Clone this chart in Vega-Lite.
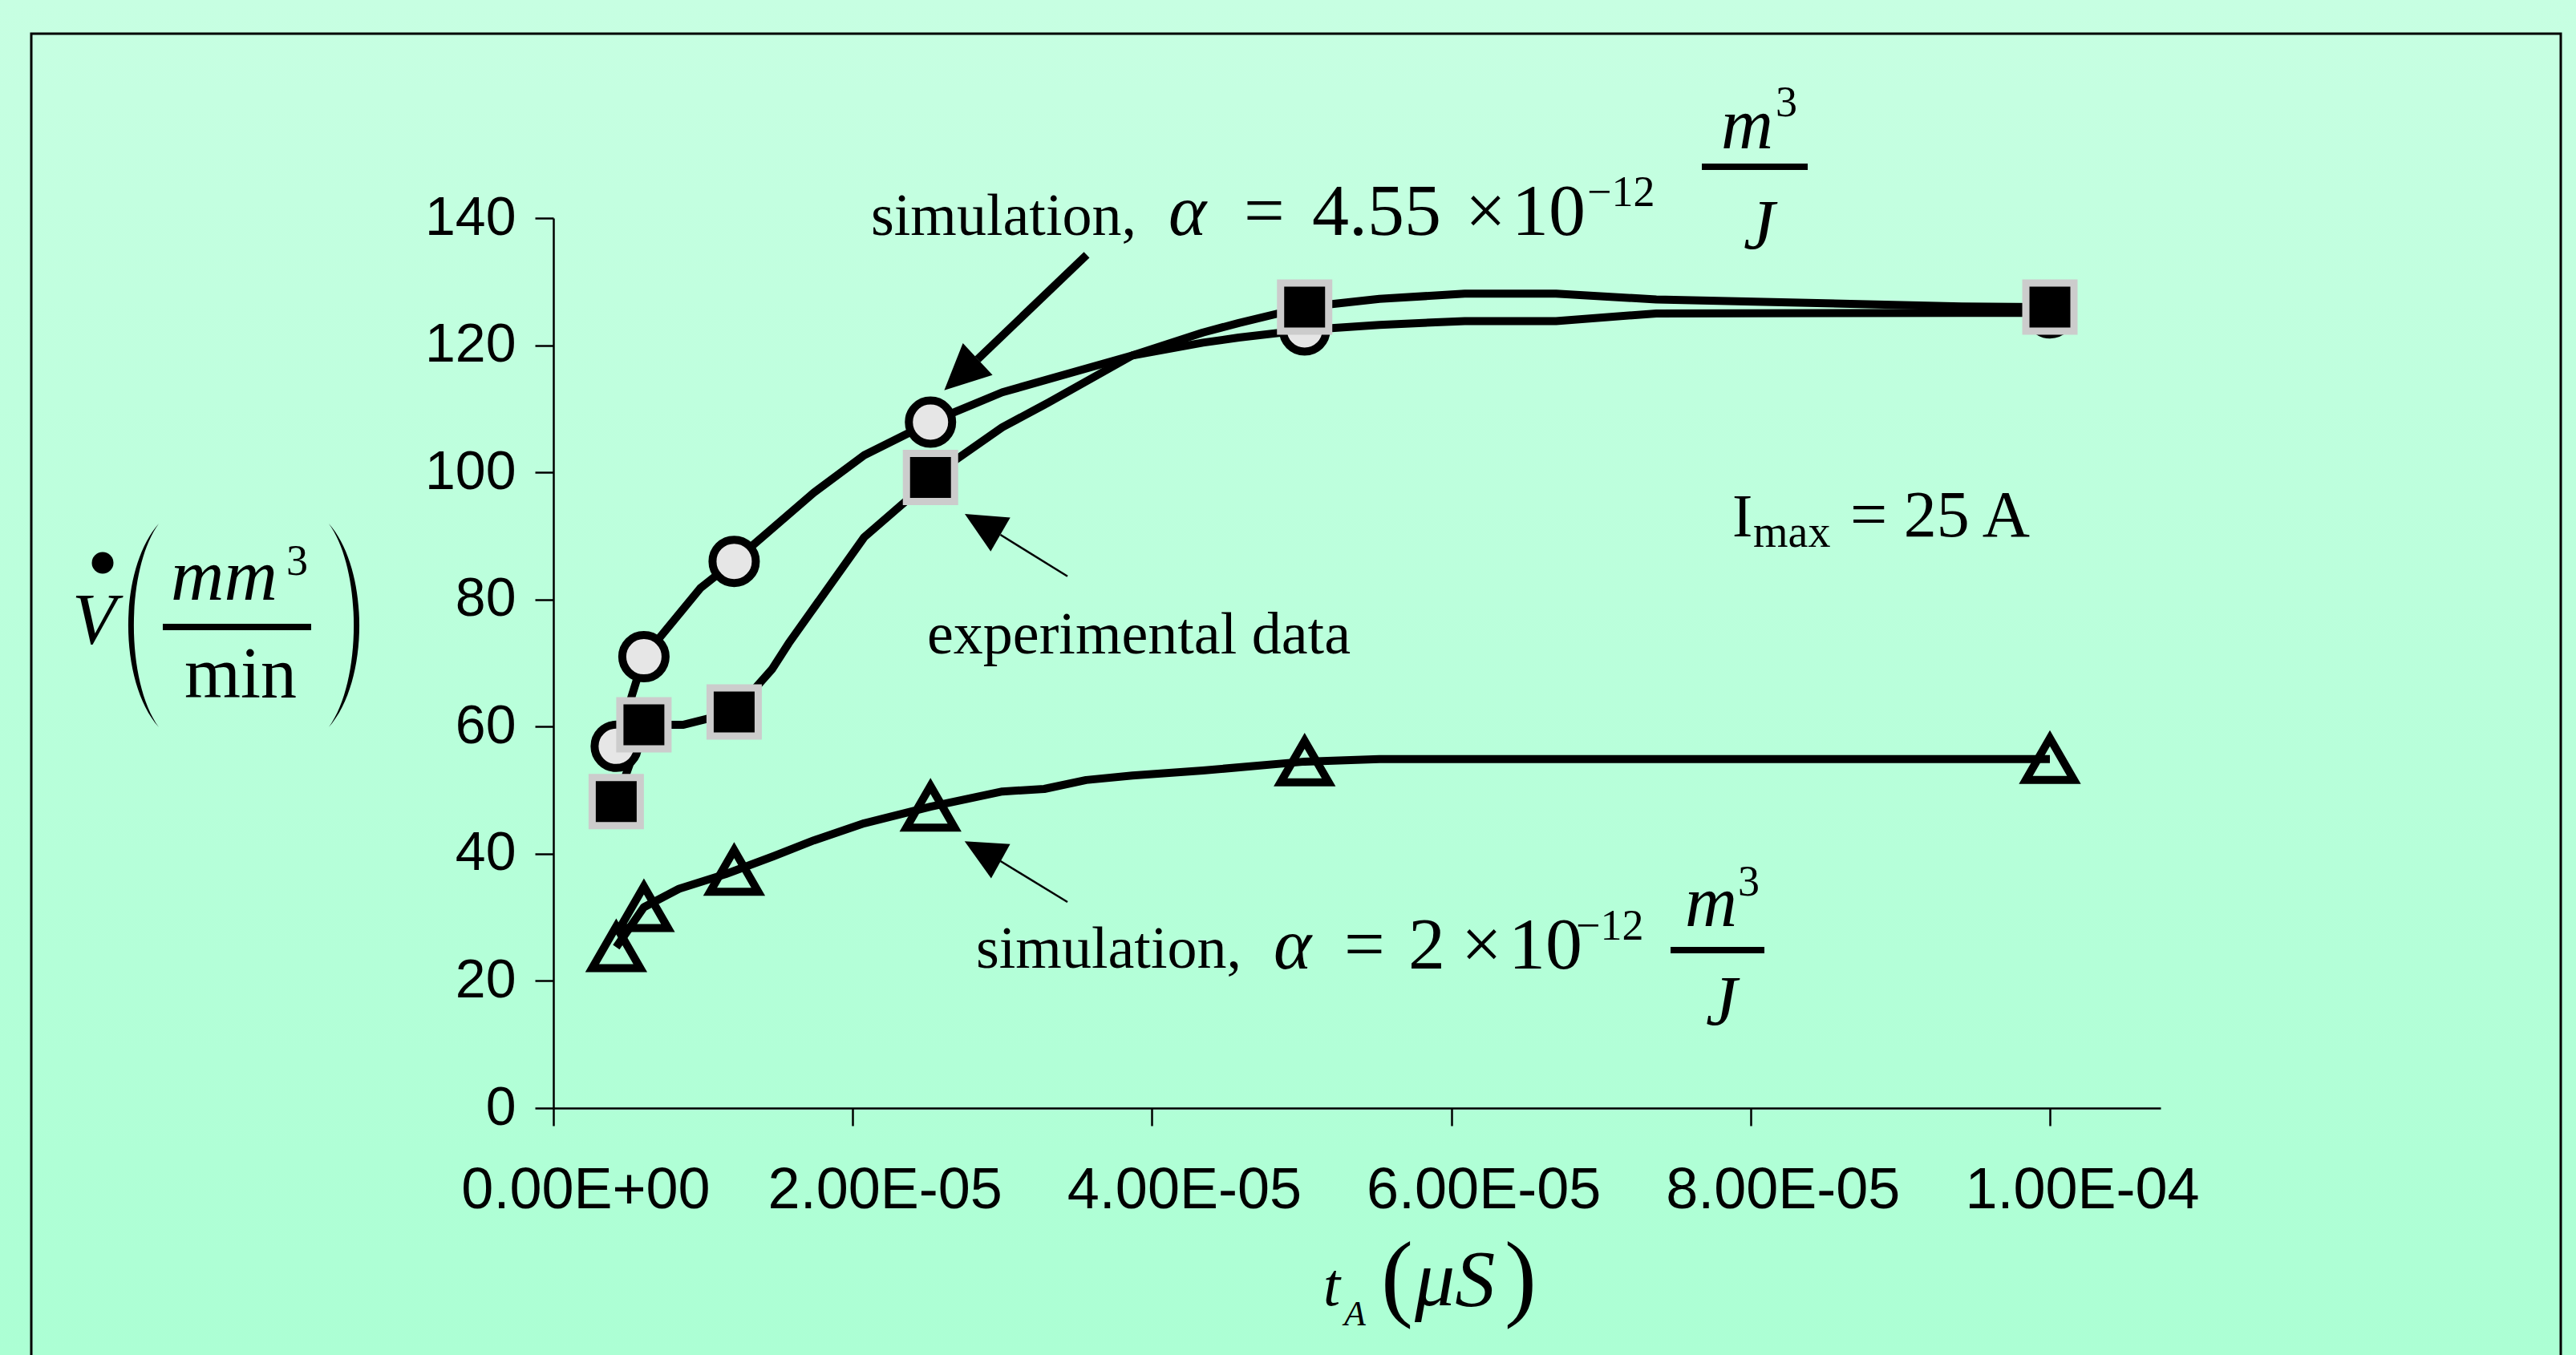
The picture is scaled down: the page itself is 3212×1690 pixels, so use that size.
{
  "$schema": "https://vega.github.io/schema/vega-lite/v6.json",
  "autosize": {"type": "none"},
  "padding": {"left": 690, "top": 272, "right": 518, "bottom": 308},
  "width": 2004,
  "height": 1110,
  "background": "#BAFFDB",
  "config": {"view": {"stroke": null}},
  "data": {"values": [{}]},
  "datasets": {
    "curves": [
      {"series": "sim455", "t": 4.2e-6, "v": 56.9},
      {"series": "sim455", "t": 6.05e-6, "v": 71.0},
      {"series": "sim455", "t": 9.83e-6, "v": 81.8},
      {"series": "sim455", "t": 1.208e-5, "v": 86.0},
      {"series": "sim455", "t": 1.74e-5, "v": 96.8},
      {"series": "sim455", "t": 2.077e-5, "v": 102.7},
      {"series": "sim455", "t": 2.52e-5, "v": 107.9},
      {"series": "sim455", "t": 3.0e-5, "v": 112.6},
      {"series": "sim455", "t": 3.87e-5, "v": 118.4},
      {"series": "sim455", "t": 4.34e-5, "v": 120.4},
      {"series": "sim455", "t": 4.58e-5, "v": 121.2},
      {"series": "sim455", "t": 5.02e-5, "v": 122.4},
      {"series": "sim455", "t": 5.52e-5, "v": 123.2},
      {"series": "sim455", "t": 6.09e-5, "v": 123.8},
      {"series": "sim455", "t": 6.7e-5, "v": 123.8},
      {"series": "sim455", "t": 7.37e-5, "v": 125.0},
      {"series": "sim455", "t": 9.41e-5, "v": 125.1},
      {"series": "sim455", "t": 1.0e-4, "v": 125.1},
      {"series": "exp", "t": 4.2e-6, "v": 48.2},
      {"series": "exp", "t": 6.05e-6, "v": 60.3},
      {"series": "exp", "t": 8.7e-6, "v": 60.3},
      {"series": "exp", "t": 1.208e-5, "v": 62.3},
      {"series": "exp", "t": 1.46e-5, "v": 69.0},
      {"series": "exp", "t": 1.572e-5, "v": 73.1},
      {"series": "exp", "t": 2.077e-5, "v": 89.8},
      {"series": "exp", "t": 2.357e-5, "v": 95.5},
      {"series": "exp", "t": 2.52e-5, "v": 99.2},
      {"series": "exp", "t": 3.0e-5, "v": 107.1},
      {"series": "exp", "t": 3.31e-5, "v": 111.0},
      {"series": "exp", "t": 3.87e-5, "v": 118.4},
      {"series": "exp", "t": 4.34e-5, "v": 122.0},
      {"series": "exp", "t": 4.58e-5, "v": 123.5},
      {"series": "exp", "t": 5.02e-5, "v": 126.0},
      {"series": "exp", "t": 5.52e-5, "v": 127.3},
      {"series": "exp", "t": 6.09e-5, "v": 128.1},
      {"series": "exp", "t": 6.7e-5, "v": 128.1},
      {"series": "exp", "t": 7.37e-5, "v": 127.2},
      {"series": "exp", "t": 9.41e-5, "v": 126.1},
      {"series": "exp", "t": 1.0e-4, "v": 126.0},
      {"series": "sim2", "t": 4.2e-6, "v": 25.3},
      {"series": "sim2", "t": 6.05e-6, "v": 31.6},
      {"series": "sim2", "t": 8.4e-6, "v": 34.5},
      {"series": "sim2", "t": 1.15e-5, "v": 36.8},
      {"series": "sim2", "t": 1.208e-5, "v": 37.3},
      {"series": "sim2", "t": 1.47e-5, "v": 39.6},
      {"series": "sim2", "t": 1.74e-5, "v": 42.1},
      {"series": "sim2", "t": 2.077e-5, "v": 44.8},
      {"series": "sim2", "t": 2.52e-5, "v": 47.4},
      {"series": "sim2", "t": 3.0e-5, "v": 49.8},
      {"series": "sim2", "t": 3.28e-5, "v": 50.2},
      {"series": "sim2", "t": 3.56e-5, "v": 51.6},
      {"series": "sim2", "t": 3.87e-5, "v": 52.3},
      {"series": "sim2", "t": 4.34e-5, "v": 53.1},
      {"series": "sim2", "t": 5.02e-5, "v": 54.5},
      {"series": "sim2", "t": 5.52e-5, "v": 54.9},
      {"series": "sim2", "t": 1.0e-4, "v": 54.9}
    ],
    "markers": [
      {"series": "sim455", "t": 4.2e-6, "v": 56.9},
      {"series": "sim455", "t": 6.05e-6, "v": 71.0},
      {"series": "sim455", "t": 1.208e-5, "v": 86.0},
      {"series": "sim455", "t": 2.52e-5, "v": 107.9},
      {"series": "sim455", "t": 5.02e-5, "v": 122.4},
      {"series": "sim455", "t": 1.0e-4, "v": 125.1},
      {"series": "sim2", "t": 4.2e-6, "v": 25.3},
      {"series": "sim2", "t": 6.05e-6, "v": 31.6},
      {"series": "sim2", "t": 1.208e-5, "v": 37.3},
      {"series": "sim2", "t": 2.52e-5, "v": 47.4},
      {"series": "sim2", "t": 5.02e-5, "v": 54.5},
      {"series": "sim2", "t": 1.0e-4, "v": 54.9},
      {"series": "exp", "t": 4.2e-6, "v": 48.2},
      {"series": "exp", "t": 6.05e-6, "v": 60.3},
      {"series": "exp", "t": 1.208e-5, "v": 62.3},
      {"series": "exp", "t": 2.52e-5, "v": 99.2},
      {"series": "exp", "t": 5.02e-5, "v": 126.0},
      {"series": "exp", "t": 1.0e-4, "v": 126.0}
    ]
  },
  "layer": [
    {
      "mark": {"type": "rect", "fill": {"gradient": "linear", "x1": 0, "y1": 0, "x2": 0, "y2": 1, "stops": [{"offset": 0, "color": "#C7FFE2"}, {"offset": 1, "color": "#ACFFD4"}]}},
      "encoding": {
        "x": {"datum": -3.6977e-5, "type": "quantitative"},
        "x2": {"datum": 1.35155e-4},
        "y": {"datum": 174.3, "type": "quantitative"},
        "y2": {"datum": -38.85}
      }
    },
    {
      "mark": {"type": "rect", "filled": false, "fill": null, "stroke": "black", "strokeWidth": 3},
      "encoding": {
        "x": {"datum": -3.4887e-5, "type": "quantitative"},
        "x2": {"datum": 1.34137e-4},
        "y": {"datum": 169.01, "type": "quantitative"},
        "y2": {"datum": -60}
      }
    },
    {
      "data": {"name": "curves"},
      "mark": {"type": "line", "color": "black", "strokeWidth": 10, "strokeJoin": "round"},
      "encoding": {
        "x": {
          "field": "t", "type": "quantitative",
          "scale": {"domain": [0, 1.07395e-4], "nice": false, "zero": false},
          "axis": {
            "title": null, "grid": false, "zindex": 1,
            "values": [0, 2e-5, 4e-5, 6e-5, 8e-5, 1e-4],
            "labelExpr": "replace(replace(format(datum.value, '.2e'), 'e-', 'E-0'), 'e+', 'E+0')",
            "tickSize": 22, "tickWidth": 2.5, "tickColor": "black",
            "domainColor": "black", "domainWidth": 2.5,
            "labelFont": "Liberation Sans", "labelFontSize": 72, "labelColor": "black",
            "labelPadding": 45, "labelOffset": 40, "labelLimit": 0,
            "labelFlush": false, "labelOverlap": false, "labelBound": false
          }
        },
        "y": {
          "field": "v", "type": "quantitative",
          "scale": {"domain": [0, 140], "nice": false, "zero": false},
          "axis": {
            "title": null, "grid": false, "zindex": 1,
            "values": [0, 20, 40, 60, 80, 100, 120, 140],
            "tickSize": 23, "tickWidth": 2.5, "tickColor": "black",
            "domainColor": "black", "domainWidth": 2.5,
            "labelFont": "Liberation Sans", "labelFontSize": 68, "labelColor": "black",
            "labelPadding": 24, "labelLimit": 0,
            "labelFlush": false, "labelOverlap": false, "labelBound": false
          }
        },
        "detail": {"field": "series"}
      }
    },
    {
      "data": {"name": "markers"},
      "transform": [{"filter": "datum.series == 'sim455'"}],
      "mark": {"type": "point", "shape": "circle", "filled": true, "fill": "#E6E6E6", "stroke": "black", "strokeWidth": 10, "size": 2916, "opacity": 1},
      "encoding": {
        "x": {"field": "t", "type": "quantitative"},
        "y": {"field": "v", "type": "quantitative"}
      }
    },
    {
      "data": {"name": "markers"},
      "transform": [{"filter": "datum.series == 'sim2'"}],
      "mark": {"type": "point", "shape": "triangle-up", "filled": false, "fill": null, "stroke": "black", "strokeWidth": 10, "strokeJoin": "miter", "size": 3600, "opacity": 1},
      "encoding": {
        "x": {"field": "t", "type": "quantitative"},
        "y": {"field": "v", "type": "quantitative"}
      }
    },
    {
      "data": {"name": "markers"},
      "transform": [{"filter": "datum.series == 'exp'"}],
      "mark": {"type": "point", "shape": "square", "filled": true, "fill": "black", "stroke": "#CCCCCC", "strokeWidth": 9, "size": 3600, "opacity": 1},
      "encoding": {
        "x": {"field": "t", "type": "quantitative"},
        "y": {"field": "v", "type": "quantitative"}
      }
    },
    {
      "mark": {"type": "rule", "color": "black", "strokeWidth": 10},
      "encoding": {
        "x": {"datum": 3.5638e-5, "type": "quantitative"}, "y": {"datum": 134.2, "type": "quantitative"},
        "x2": {"datum": 2.8349e-5}, "y2": {"datum": 117.8}
      }
    },
    {
      "mark": {"type": "point", "shape": "M0,-1L-0.95,1L0.95,1Z", "filled": true, "color": "black", "strokeWidth": 0, "size": 3249, "angle": 227, "opacity": 1},
      "encoding": {"x": {"datum": 2.7237e-5, "type": "quantitative"}, "y": {"datum": 115.36, "type": "quantitative"}}
    },
    {
      "mark": {"type": "rule", "color": "black", "strokeWidth": 2.5},
      "encoding": {
        "x": {"datum": 3.4352e-5, "type": "quantitative"}, "y": {"datum": 83.65, "type": "quantitative"},
        "x2": {"datum": 2.9877e-5}, "y2": {"datum": 90.18}
      }
    },
    {
      "mark": {"type": "point", "shape": "M0,-1L-0.95,1L0.95,1Z", "filled": true, "color": "black", "strokeWidth": 0, "size": 2642, "angle": 300, "opacity": 1},
      "encoding": {"x": {"datum": 2.8684e-5, "type": "quantitative"}, "y": {"datum": 91.84, "type": "quantitative"}}
    },
    {
      "mark": {"type": "rule", "color": "black", "strokeWidth": 2.5},
      "encoding": {
        "x": {"datum": 3.4352e-5, "type": "quantitative"}, "y": {"datum": 32.41, "type": "quantitative"},
        "x2": {"datum": 2.9877e-5}, "y2": {"datum": 38.85}
      }
    },
    {
      "mark": {"type": "point", "shape": "M0,-1L-0.95,1L0.95,1Z", "filled": true, "color": "black", "strokeWidth": 0, "size": 2642, "angle": 299, "opacity": 1},
      "encoding": {"x": {"datum": 2.8684e-5, "type": "quantitative"}, "y": {"datum": 40.4, "type": "quantitative"}}
    },
    {
      "mark": {"type": "text", "text": "simulation,", "font": "Liberation Serif", "fontSize": 74, "align": "left", "baseline": "alphabetic", "color": "black"},
      "encoding": {"x": {"datum": 2.1222e-5, "type": "quantitative"}, "y": {"datum": 137.35, "type": "quantitative"}}
    },
    {
      "mark": {"type": "text", "text": "α", "font": "Liberation Serif", "fontStyle": "italic", "fontSize": 90, "align": "left", "baseline": "alphabetic", "color": "black"},
      "encoding": {"x": {"datum": 4.1104e-5, "type": "quantitative"}, "y": {"datum": 137.35, "type": "quantitative"}}
    },
    {
      "mark": {"type": "text", "text": "=", "font": "Liberation Serif", "fontSize": 90, "align": "left", "baseline": "alphabetic", "color": "black"},
      "encoding": {"x": {"datum": 4.6141e-5, "type": "quantitative"}, "y": {"datum": 137.35, "type": "quantitative"}}
    },
    {
      "mark": {"type": "text", "text": "4.55", "font": "Liberation Serif", "fontSize": 92, "align": "left", "baseline": "alphabetic", "color": "black"},
      "encoding": {"x": {"datum": 5.0697e-5, "type": "quantitative"}, "y": {"datum": 137.35, "type": "quantitative"}}
    },
    {
      "mark": {"type": "text", "text": "×", "font": "Liberation Serif", "fontSize": 90, "align": "left", "baseline": "alphabetic", "color": "black"},
      "encoding": {"x": {"datum": 6.0932e-5, "type": "quantitative"}, "y": {"datum": 137.35, "type": "quantitative"}}
    },
    {
      "mark": {"type": "text", "text": "10", "font": "Liberation Serif", "fontSize": 92, "align": "left", "baseline": "alphabetic", "color": "black"},
      "encoding": {"x": {"datum": 6.404e-5, "type": "quantitative"}, "y": {"datum": 137.35, "type": "quantitative"}}
    },
    {
      "mark": {"type": "text", "text": "−12", "font": "Liberation Serif", "fontSize": 54, "align": "left", "baseline": "alphabetic", "color": "black"},
      "encoding": {"x": {"datum": 6.9078e-5, "type": "quantitative"}, "y": {"datum": 141.89, "type": "quantitative"}}
    },
    {
      "mark": {"type": "text", "text": "m", "font": "Liberation Serif", "fontStyle": "italic", "fontSize": 90, "align": "left", "baseline": "alphabetic", "color": "black"},
      "encoding": {"x": {"datum": 7.8028e-5, "type": "quantitative"}, "y": {"datum": 150.97, "type": "quantitative"}}
    },
    {
      "mark": {"type": "text", "text": "3", "font": "Liberation Serif", "fontSize": 54, "align": "left", "baseline": "alphabetic", "color": "black"},
      "encoding": {"x": {"datum": 8.1672e-5, "type": "quantitative"}, "y": {"datum": 156.02, "type": "quantitative"}}
    },
    {
      "mark": {"type": "rule", "color": "black", "strokeWidth": 8},
      "encoding": {"x": {"datum": 7.6742e-5, "type": "quantitative"}, "x2": {"datum": 8.3816e-5}, "y": {"datum": 148.07, "type": "quantitative"}}
    },
    {
      "mark": {"type": "text", "text": "J", "font": "Liberation Serif", "fontStyle": "italic", "fontSize": 88, "align": "left", "baseline": "alphabetic", "color": "black"},
      "encoding": {"x": {"datum": 7.9528e-5, "type": "quantitative"}, "y": {"datum": 135.21, "type": "quantitative"}}
    },
    {
      "mark": {"type": "text", "text": "experimental data", "font": "Liberation Serif", "fontSize": 74, "align": "left", "baseline": "alphabetic", "color": "black"},
      "encoding": {"x": {"datum": 2.4973e-5, "type": "quantitative"}, "y": {"datum": 71.51, "type": "quantitative"}}
    },
    {
      "mark": {"type": "text", "text": "I", "font": "Liberation Serif", "fontSize": 76, "align": "left", "baseline": "alphabetic", "color": "black"},
      "encoding": {"x": {"datum": 7.8778e-5, "type": "quantitative"}, "y": {"datum": 89.93, "type": "quantitative"}}
    },
    {
      "mark": {"type": "text", "text": "max", "font": "Liberation Serif", "fontSize": 56, "align": "left", "baseline": "alphabetic", "color": "black"},
      "encoding": {"x": {"datum": 8.0171e-5, "type": "quantitative"}, "y": {"datum": 88.29, "type": "quantitative"}}
    },
    {
      "mark": {"type": "text", "text": "= 25 A", "font": "Liberation Serif", "fontSize": 82, "align": "left", "baseline": "alphabetic", "color": "black"},
      "encoding": {"x": {"datum": 8.6656e-5, "type": "quantitative"}, "y": {"datum": 89.93, "type": "quantitative"}}
    },
    {
      "mark": {"type": "text", "text": "simulation,", "font": "Liberation Serif", "fontSize": 74, "align": "left", "baseline": "alphabetic", "color": "black"},
      "encoding": {"x": {"datum": 2.8242e-5, "type": "quantitative"}, "y": {"datum": 22.07, "type": "quantitative"}}
    },
    {
      "mark": {"type": "text", "text": "α", "font": "Liberation Serif", "fontStyle": "italic", "fontSize": 90, "align": "left", "baseline": "alphabetic", "color": "black"},
      "encoding": {"x": {"datum": 4.8124e-5, "type": "quantitative"}, "y": {"datum": 22.0, "type": "quantitative"}}
    },
    {
      "mark": {"type": "text", "text": "=", "font": "Liberation Serif", "fontSize": 90, "align": "left", "baseline": "alphabetic", "color": "black"},
      "encoding": {"x": {"datum": 5.284e-5, "type": "quantitative"}, "y": {"datum": 22.0, "type": "quantitative"}}
    },
    {
      "mark": {"type": "text", "text": "2", "font": "Liberation Serif", "fontSize": 92, "align": "left", "baseline": "alphabetic", "color": "black"},
      "encoding": {"x": {"datum": 5.7128e-5, "type": "quantitative"}, "y": {"datum": 22.0, "type": "quantitative"}}
    },
    {
      "mark": {"type": "text", "text": "×", "font": "Liberation Serif", "fontSize": 90, "align": "left", "baseline": "alphabetic", "color": "black"},
      "encoding": {"x": {"datum": 6.0665e-5, "type": "quantitative"}, "y": {"datum": 22.0, "type": "quantitative"}}
    },
    {
      "mark": {"type": "text", "text": "10", "font": "Liberation Serif", "fontSize": 92, "align": "left", "baseline": "alphabetic", "color": "black"},
      "encoding": {"x": {"datum": 6.3826e-5, "type": "quantitative"}, "y": {"datum": 22.0, "type": "quantitative"}}
    },
    {
      "mark": {"type": "text", "text": "−12", "font": "Liberation Serif", "fontSize": 54, "align": "left", "baseline": "alphabetic", "color": "black"},
      "encoding": {"x": {"datum": 6.8328e-5, "type": "quantitative"}, "y": {"datum": 26.49, "type": "quantitative"}}
    },
    {
      "mark": {"type": "text", "text": "m", "font": "Liberation Serif", "fontStyle": "italic", "fontSize": 90, "align": "left", "baseline": "alphabetic", "color": "black"},
      "encoding": {"x": {"datum": 7.5616e-5, "type": "quantitative"}, "y": {"datum": 28.63, "type": "quantitative"}}
    },
    {
      "mark": {"type": "text", "text": "3", "font": "Liberation Serif", "fontSize": 54, "align": "left", "baseline": "alphabetic", "color": "black"},
      "encoding": {"x": {"datum": 7.9153e-5, "type": "quantitative"}, "y": {"datum": 33.42, "type": "quantitative"}}
    },
    {
      "mark": {"type": "rule", "color": "black", "strokeWidth": 8},
      "encoding": {"x": {"datum": 7.4652e-5, "type": "quantitative"}, "x2": {"datum": 8.0922e-5}, "y": {"datum": 24.85, "type": "quantitative"}}
    },
    {
      "mark": {"type": "text", "text": "J", "font": "Liberation Serif", "fontStyle": "italic", "fontSize": 88, "align": "left", "baseline": "alphabetic", "color": "black"},
      "encoding": {"x": {"datum": 7.701e-5, "type": "quantitative"}, "y": {"datum": 13.12, "type": "quantitative"}}
    },
    {
      "mark": {"type": "text", "text": "V", "font": "Liberation Serif", "fontStyle": "italic", "fontSize": 90, "align": "left", "baseline": "alphabetic", "color": "black"},
      "encoding": {"x": {"datum": -3.2154e-5, "type": "quantitative"}, "y": {"datum": 73.03, "type": "quantitative"}}
    },
    {
      "mark": {"type": "point", "shape": "circle", "filled": true, "color": "black", "strokeWidth": 0, "size": 729, "opacity": 1},
      "encoding": {"x": {"datum": -3.0118e-5, "type": "quantitative"}, "y": {"datum": 85.77, "type": "quantitative"}}
    },
    {
      "mark": {"type": "point", "shape": "M0.15,-1C-0.25,-0.55 -0.25,0.55 0.15,1C-0.177,0.55 -0.177,-0.55 0.15,-1Z", "filled": true, "color": "black", "strokeWidth": 0, "size": 64516, "opacity": 1},
      "encoding": {"x": {"datum": -2.7385e-5, "type": "quantitative"}, "y": {"datum": 75.93, "type": "quantitative"}}
    },
    {
      "mark": {"type": "point", "shape": "M-0.15,-1C0.25,-0.55 0.25,0.55 -0.15,1C0.177,0.55 0.177,-0.55 -0.15,-1Z", "filled": true, "color": "black", "strokeWidth": 0, "size": 64516, "opacity": 1},
      "encoding": {"x": {"datum": -1.3987e-5, "type": "quantitative"}, "y": {"datum": 75.93, "type": "quantitative"}}
    },
    {
      "mark": {"type": "text", "text": "mm", "font": "Liberation Serif", "fontStyle": "italic", "fontSize": 92, "align": "left", "baseline": "alphabetic", "color": "black"},
      "encoding": {"x": {"datum": -2.5563e-5, "type": "quantitative"}, "y": {"datum": 79.96, "type": "quantitative"}}
    },
    {
      "mark": {"type": "text", "text": "3", "font": "Liberation Serif", "fontSize": 54, "align": "left", "baseline": "alphabetic", "color": "black"},
      "encoding": {"x": {"datum": -1.7846e-5, "type": "quantitative"}, "y": {"datum": 83.87, "type": "quantitative"}}
    },
    {
      "mark": {"type": "rule", "color": "black", "strokeWidth": 8},
      "encoding": {"x": {"datum": -2.6099e-5, "type": "quantitative"}, "x2": {"datum": -1.6184e-5}, "y": {"datum": 75.68, "type": "quantitative"}}
    },
    {
      "mark": {"type": "text", "text": "min", "font": "Liberation Serif", "fontSize": 90, "align": "left", "baseline": "alphabetic", "color": "black"},
      "encoding": {"x": {"datum": -2.4652e-5, "type": "quantitative"}, "y": {"datum": 64.58, "type": "quantitative"}}
    },
    {
      "mark": {"type": "text", "text": "t", "font": "Liberation Serif", "fontStyle": "italic", "fontSize": 76, "align": "left", "baseline": "alphabetic", "color": "black"},
      "encoding": {"x": {"datum": 5.1447e-5, "type": "quantitative"}, "y": {"datum": -31.03, "type": "quantitative"}}
    },
    {
      "mark": {"type": "text", "text": "A", "font": "Liberation Serif", "fontStyle": "italic", "fontSize": 44, "align": "left", "baseline": "alphabetic", "color": "black"},
      "encoding": {"x": {"datum": 5.284e-5, "type": "quantitative"}, "y": {"datum": -34.18, "type": "quantitative"}}
    },
    {
      "mark": {"type": "text", "text": "(", "font": "Liberation Serif", "fontSize": 120, "align": "left", "baseline": "alphabetic", "color": "black"},
      "encoding": {"x": {"datum": 5.5305e-5, "type": "quantitative"}, "y": {"datum": -31.53, "type": "quantitative"}}
    },
    {
      "mark": {"type": "text", "text": "μS", "font": "Liberation Serif", "fontStyle": "italic", "fontSize": 100, "align": "left", "baseline": "alphabetic", "color": "black"},
      "encoding": {"x": {"datum": 5.7556e-5, "type": "quantitative"}, "y": {"datum": -31.03, "type": "quantitative"}}
    },
    {
      "mark": {"type": "text", "text": ")", "font": "Liberation Serif", "fontSize": 120, "align": "left", "baseline": "alphabetic", "color": "black"},
      "encoding": {"x": {"datum": 6.3558e-5, "type": "quantitative"}, "y": {"datum": -31.53, "type": "quantitative"}}
    }
  ]
}
